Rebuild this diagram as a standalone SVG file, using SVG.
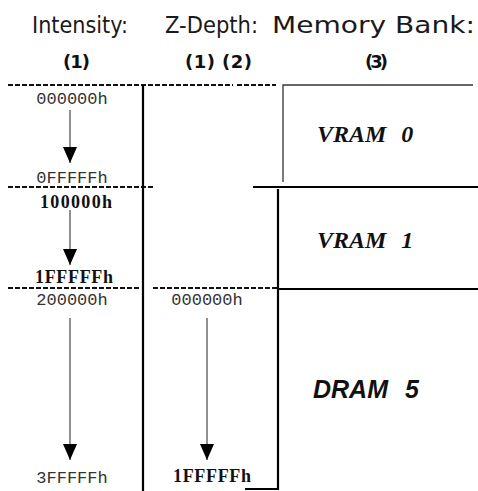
<svg xmlns="http://www.w3.org/2000/svg" width="478" height="491" viewBox="0 0 478 491">
<style>
.hdr{font-family:"DejaVu Sans","Liberation Sans",sans-serif;font-size:23px;fill:#1a1a1a}
.num{font-family:"DejaVu Sans","Liberation Sans",sans-serif;font-size:18px;font-weight:bold;fill:#111}
.mono{font-family:"Liberation Mono","Courier New",monospace;font-size:17px;fill:#333}
.bser{font-family:"Liberation Serif","Times New Roman",serif;font-size:18px;font-weight:bold;fill:#111}
.bank{font-family:"Liberation Serif","Times New Roman",serif;font-size:24px;font-weight:bold;font-style:italic;fill:#111}
.bank2{font-family:"Liberation Sans",Arial,sans-serif;font-size:25px;font-weight:bold;font-style:italic;fill:#111}
.dash{stroke:#111;stroke-width:2;stroke-dasharray:5 2;fill:none}
.solid{stroke:#000;stroke-width:2.2;fill:none}
.thin{stroke:#333;stroke-width:1.3;fill:none}
.arr{stroke:#222;stroke-width:1;fill:none;marker-end:url(#ah)}
</style>
<defs>
<marker id="ah" markerUnits="userSpaceOnUse" markerWidth="14" markerHeight="16" refX="7" refY="16" orient="0" viewBox="0 0 14 16">
<path d="M0,0 L14,0 L7,16 Z" fill="#000"/>
</marker>
</defs>
<g id="headers">
<text class="hdr" x="32" y="33" textLength="96" lengthAdjust="spacingAndGlyphs">Intensity:</text>
<text class="hdr" x="165" y="33" textLength="93" lengthAdjust="spacingAndGlyphs">Z-Depth:</text>
<text class="hdr" x="272" y="33" textLength="203" lengthAdjust="spacingAndGlyphs">Memory Bank:</text>
<text class="num" x="63" y="68" textLength="27">(1)</text>
<text class="num" x="185" y="68" textLength="67" xml:space="preserve">(1) (2)</text>
<text class="num" x="365" y="68" textLength="23">(3)</text>
</g>
<g id="connectors">
<path class="dash" d="M8,85 H233 M237,85 H276"/>
<path class="dash" d="M8,187 H153"/>
<path class="dash" d="M8,288 H140 M153,288 H277"/>
<path class="solid" d="M143,85 V491"/>
<path class="arr" d="M70,110 V163"/>
<path class="arr" d="M70,210 V265"/>
<path class="arr" d="M70,318 V460"/>
<path class="arr" d="M207,318 V460"/>
</g>
<g id="intensity-labels">
<text class="mono" x="72" y="104" text-anchor="middle">000000h</text>
<text class="mono" x="72" y="183" text-anchor="middle">0FFFFFh</text>
<text class="bser" x="76" y="208" text-anchor="middle" textLength="72">100000h</text>
<text class="bser" x="74" y="283" text-anchor="middle" textLength="78">1FFFFFh</text>
<text class="mono" x="72" y="305" text-anchor="middle">200000h</text>
<text class="mono" x="72" y="483" text-anchor="middle">3FFFFFh</text>
</g>
<g id="zdepth-labels">
<text class="mono" x="207" y="305" text-anchor="middle">000000h</text>
<text class="bser" x="212" y="482" text-anchor="middle" textLength="78">1FFFFFh</text>
</g>
<g id="vram0">
<path class="thin" d="M283,182 V85 H473"/>
<text class="bank" x="317" y="142" word-spacing="9">VRAM 0</text>
</g>
<g id="vram1">
<path class="solid" d="M253,187 H478 M278,189 V289"/>
<text class="bank" x="317" y="248" word-spacing="9">VRAM 1</text>
</g>
<g id="dram5">
<path class="solid" d="M278,289 H478 M278,289 V490 M245,489 H279"/>
<text class="bank2" x="313" y="398" word-spacing="10">DRAM 5</text>
</g>
</svg>
